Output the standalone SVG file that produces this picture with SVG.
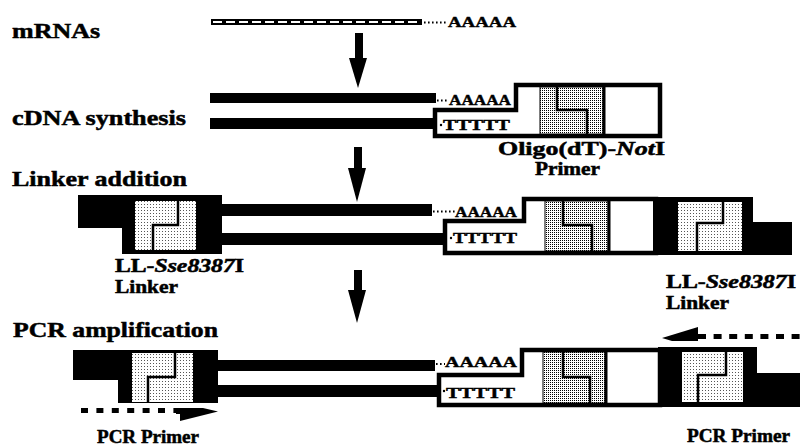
<svg xmlns="http://www.w3.org/2000/svg" width="804" height="448" viewBox="0 0 804 448">
<defs>
<pattern id="pd" width="2" height="2" patternUnits="userSpaceOnUse"><rect width="2" height="2" fill="#fff"/><rect width="1" height="1" fill="#000"/></pattern>
<pattern id="pl" width="3" height="3" patternUnits="userSpaceOnUse"><rect width="3" height="3" fill="#fff"/><rect width="1" height="1" fill="#555"/></pattern>
<style>
text{font-family:"Liberation Serif","Times New Roman",serif;font-weight:bold;fill:#000;stroke:#000;stroke-width:0.5}
.main{font-size:22px}
.sub{font-size:18px}
.seq{font-size:14px;stroke-width:0.4}
.it{font-style:italic}
.strand{fill:#000}
.dots{stroke:#000;stroke-width:2.2;stroke-dasharray:1.6 2.4;fill:none}
.box{fill:#fff;stroke:#000;stroke-width:4.5;stroke-linejoin:miter}
.stD{fill:url(#pd);stroke:#000;stroke-width:1}
.stL{fill:url(#pl);stroke:none}
.lline{fill:none;stroke:#000;stroke-width:2.5}
.blk{fill:#000}
.dash{stroke:#000;stroke-width:5;fill:none}
</style>
</defs>
<rect width="804" height="448" fill="#fff"/>

<g id="labels">
<text class="main" x="12" y="38" textLength="88" lengthAdjust="spacingAndGlyphs">mRNAs</text>
<text class="main" x="12" y="125" textLength="174" lengthAdjust="spacingAndGlyphs">cDNA synthesis</text>
<text class="main" x="12" y="186" textLength="175" lengthAdjust="spacingAndGlyphs">Linker addition</text>
<text class="main" x="13" y="337" textLength="205" lengthAdjust="spacingAndGlyphs">PCR amplification</text>
</g>

<g id="mrna">
<rect x="211" y="19" width="211" height="6" class="strand"/>
<line x1="213" y1="22" x2="420" y2="22" stroke="#fff" stroke-width="2" stroke-dasharray="9 4"/>
<line x1="424" y1="22.5" x2="446" y2="22.5" class="dots"/>
<text class="seq" x="448" y="27" textLength="68" lengthAdjust="spacingAndGlyphs">AAAAA</text>
</g>

<g id="cdna">
<rect x="210" y="93" width="226" height="10" class="strand"/>
<rect x="210" y="118" width="225" height="11" class="strand"/>
<line x1="437" y1="100.5" x2="448" y2="100.5" class="dots"/>
<text class="seq" x="449" y="105" textLength="62" lengthAdjust="spacingAndGlyphs">AAAAA</text>
<path class="box" d="M516,85 H660 V136 H435 V110 H516 Z"/>
<circle cx="441" cy="125" r="1.2"/>
<text class="seq" x="443" y="130" textLength="67" lengthAdjust="spacingAndGlyphs">TTTTT</text>
<rect x="540" y="87" width="63" height="47" class="stD"/>
<line x1="604" y1="87" x2="604" y2="134" stroke="#000" stroke-width="3"/>
<path class="lline" d="M557,87 V110 H587 V134"/>
<text class="sub" x="498" y="155" textLength="167" lengthAdjust="spacingAndGlyphs">Oligo(dT)-<tspan class="it">Not</tspan>I</text>
<text class="sub" x="535" y="175" textLength="65" lengthAdjust="spacingAndGlyphs">Primer</text>
</g>

<g id="linker-left">
<path class="blk" d="M78,195 H222 V254 H122 V228 H78 Z"/>
<rect x="135" y="201" width="61" height="49" class="stL"/>
<path class="lline" d="M178,201 V225 H153 V250"/>
<text class="sub" x="115" y="272" textLength="129" lengthAdjust="spacingAndGlyphs">LL-<tspan class="it">Sse8387</tspan>I</text>
<text class="sub" x="115" y="293" textLength="63" lengthAdjust="spacingAndGlyphs">Linker</text>
</g>

<g id="linker-insert">
<rect x="220" y="204" width="212" height="12" class="strand"/>
<rect x="220" y="233" width="225" height="12" class="strand"/>
<line x1="433" y1="211.5" x2="455" y2="211.5" class="dots"/>
<text class="seq" x="455" y="217" textLength="62" lengthAdjust="spacingAndGlyphs">AAAAA</text>
<path class="box" d="M524,199 H656 V253 H445 V221 H524 Z"/>
<circle cx="451" cy="238" r="1.2"/>
<text class="seq" x="453" y="243" textLength="64" lengthAdjust="spacingAndGlyphs">TTTTT</text>
<rect x="545" y="201" width="63" height="50" class="stD"/>
<line x1="609" y1="201" x2="609" y2="251" stroke="#000" stroke-width="3"/>
<path class="lline" d="M563,201 V225 H592 V251"/>
</g>

<g id="linker-right">
<path class="blk" d="M653,197 H753 V222 H792 V255 H653 Z"/>
<rect x="678" y="202" width="64" height="49" class="stL"/>
<path class="lline" d="M723,202 V223 H697 V251"/>
<text class="sub" x="666" y="288" textLength="130" lengthAdjust="spacingAndGlyphs">LL-<tspan class="it">Sse8387</tspan>I</text>
<text class="sub" x="666" y="309" textLength="63" lengthAdjust="spacingAndGlyphs">Linker</text>
</g>

<g id="pcr-left">
<path class="blk" d="M73,350 H218 V403 H118 V380 H73 Z"/>
<rect x="132" y="353" width="61" height="49" class="stL"/>
<path class="lline" d="M175,353 V377 H148 V402"/>
<line x1="81" y1="410.5" x2="177" y2="410.5" class="dash" stroke-dasharray="7 8.4"/>
<path class="blk" d="M176,408 H203 L218,411.5 L180,421 V414 H176 Z"/>
<text class="sub" x="97" y="443" textLength="102" lengthAdjust="spacingAndGlyphs">PCR Primer</text>
</g>

<g id="pcr-insert">
<rect x="216" y="360" width="219" height="11" class="strand"/>
<rect x="216" y="385" width="223" height="12" class="strand"/>
<line x1="436" y1="364" x2="445" y2="364" class="dots"/>
<text class="seq" x="445" y="367" textLength="72" lengthAdjust="spacingAndGlyphs">AAAAA</text>
<path class="box" d="M522,350 H660 V405 H439 V375 H522 Z"/>
<circle cx="444" cy="391" r="1.2"/>
<text class="seq" x="446" y="398" textLength="69" lengthAdjust="spacingAndGlyphs">TTTTT</text>
<rect x="543" y="352" width="62" height="51" class="stD"/>
<line x1="606" y1="352" x2="606" y2="403" stroke="#000" stroke-width="3"/>
<path class="lline" d="M563,352 V377 H590 V403"/>
</g>

<g id="pcr-right">
<path class="blk" d="M658,347 H757 V373 H800 V407 H658 Z"/>
<rect x="682" y="352" width="61" height="50" class="stL"/>
<path class="lline" d="M726,352 V375 H698 V402"/>
<line x1="698" y1="336.5" x2="800" y2="336.5" class="dash" stroke-dasharray="8 7.6"/>
<path class="blk" d="M662,338 L698,327 V341 H672 Z"/>
<text class="sub" x="687" y="442" textLength="103" lengthAdjust="spacingAndGlyphs">PCR Primer</text>
</g>

<g id="connectors">
<rect x="355" y="33" width="8" height="26" class="blk"/>
<polygon points="349,58 367,58 358,88" class="blk"/>
<rect x="354" y="147" width="8" height="22" class="blk"/>
<polygon points="348,168 366,168 357,202" class="blk"/>
<rect x="354" y="270" width="8" height="21" class="blk"/>
<polygon points="348,290 366,290 357,323" class="blk"/>
</g>
</svg>
